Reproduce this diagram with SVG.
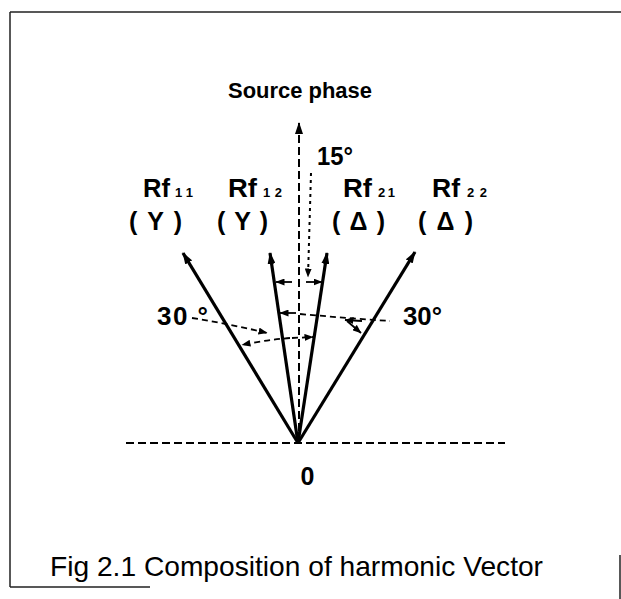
<svg xmlns="http://www.w3.org/2000/svg" width="621" height="599" viewBox="0 0 621 599">
<defs>
<style>
.frame{stroke:#222;stroke-width:1.5;fill:none}
.vec{stroke:#000;stroke-width:3.2;fill:none}
.dash{stroke:#000;stroke-width:2;stroke-dasharray:8 4;fill:none}
.dot{stroke:#000;stroke-width:2;stroke-dasharray:3 4;fill:none}
.thin{stroke:#000;stroke-width:1.8;stroke-dasharray:6 4;fill:none}
.solid{stroke:#000;stroke-width:1.8;fill:none}
.t{font-family:"Liberation Sans",Arial,sans-serif;font-weight:bold;fill:#000}
.cap{font-family:"Liberation Sans",Arial,sans-serif;fill:#000}
</style>
<marker id="big" viewBox="0 0 12 8" refX="11" refY="4" markerWidth="12" markerHeight="8" markerUnits="userSpaceOnUse" orient="auto">
<path d="M0,0 L12,4 L0,8 Z" fill="#000"/>
</marker>
<marker id="sm" viewBox="0 0 9 7" refX="8.5" refY="3.5" markerWidth="9" markerHeight="7" markerUnits="userSpaceOnUse" orient="auto">
<path d="M0,0 L9,3.5 L0,7 Z" fill="#000"/>
</marker>
</defs>
<rect width="621" height="599" fill="#fff"/>
<g id="frame">
<path class="frame" d="M10,12 L621,12 M10,12 L10,587 M10,587 L150,587 M620,555 L620,599"/>
</g>
<g id="connectors">
<line class="dash" x1="126" y1="443" x2="505" y2="443"/>
<line class="dash" x1="299" y1="443" x2="299" y2="123" marker-end="url(#big)"/>
<line class="dot" x1="311" y1="173" x2="308" y2="277" marker-end="url(#sm)"/>
<line class="vec" x1="298" y1="443" x2="183" y2="253" marker-end="url(#big)"/>
<line class="vec" x1="298" y1="443" x2="270" y2="253" marker-end="url(#big)"/>
<line class="vec" x1="298" y1="443" x2="327" y2="253" marker-end="url(#big)"/>
<line class="vec" x1="298" y1="443" x2="415" y2="252" marker-end="url(#big)"/>
<line class="solid" x1="292" y1="282" x2="276" y2="282" marker-end="url(#sm)"/>
<line class="solid" x1="306" y1="282" x2="322" y2="282" marker-end="url(#sm)"/>
<line class="solid" x1="296" y1="313" x2="280" y2="313" marker-end="url(#sm)"/>
<path class="thin" d="M300,314 Q345,318 390,321"/>
<line class="solid" x1="362" y1="321" x2="345" y2="320" marker-end="url(#sm)"/>
<line class="solid" x1="347" y1="321" x2="361" y2="333" marker-end="url(#sm)"/>
<path class="thin" d="M192,318 Q230,324 267,333" marker-end="url(#sm)"/>
<path class="thin" d="M290,338 Q265,340 242,345" marker-end="url(#sm)"/>
<line class="thin" x1="292" y1="338" x2="313" y2="337" marker-end="url(#sm)"/>
</g>
<g id="source">
<text class="t" x="228" y="98" font-size="22" textLength="144" lengthAdjust="spacingAndGlyphs">Source phase</text>
</g>
<g id="angle15">
<text class="t" x="317" y="165" font-size="26" textLength="36" lengthAdjust="spacingAndGlyphs">15°</text>
</g>
<g id="rf11">
<text class="t" x="143" y="197" font-size="25" textLength="27" lengthAdjust="spacingAndGlyphs">Rf</text>
<text class="t" x="175" y="197" font-size="13" textLength="18" lengthAdjust="spacing">11</text>
<text class="t" x="129" y="230" font-size="25" textLength="53" lengthAdjust="spacing">(Y)</text>
</g>
<g id="rf12">
<text class="t" x="228" y="197" font-size="25" textLength="29" lengthAdjust="spacingAndGlyphs">Rf</text>
<text class="t" x="263" y="197" font-size="13" textLength="19" lengthAdjust="spacing">12</text>
<text class="t" x="217" y="230" font-size="25" textLength="51" lengthAdjust="spacing">(Y)</text>
</g>
<g id="rf21">
<text class="t" x="343" y="197" font-size="25" textLength="29" lengthAdjust="spacingAndGlyphs">Rf</text>
<text class="t" x="378" y="197" font-size="13" textLength="17" lengthAdjust="spacing">21</text>
<text class="t" x="332" y="230" font-size="25" textLength="53" lengthAdjust="spacing">(Δ)</text>
</g>
<g id="rf22">
<text class="t" x="432" y="197" font-size="25" textLength="28" lengthAdjust="spacingAndGlyphs">Rf</text>
<text class="t" x="467" y="197" font-size="13" textLength="20" lengthAdjust="spacing">22</text>
<text class="t" x="418" y="230" font-size="25" textLength="55" lengthAdjust="spacing">(Δ)</text>
</g>
<g id="angle30L">
<text class="t" x="157" y="325" font-size="26" textLength="51" lengthAdjust="spacing">30 °</text>
</g>
<g id="angle30R">
<text class="t" x="403" y="325" font-size="26" textLength="39" lengthAdjust="spacingAndGlyphs">30°</text>
</g>
<g id="origin">
<text class="t" x="307.5" y="485" font-size="25" text-anchor="middle">0</text>
</g>
<g id="caption">
<text class="cap" x="50" y="576" font-size="28" textLength="493" lengthAdjust="spacingAndGlyphs">Fig 2.1 Composition of harmonic Vector</text>
</g>
</svg>
